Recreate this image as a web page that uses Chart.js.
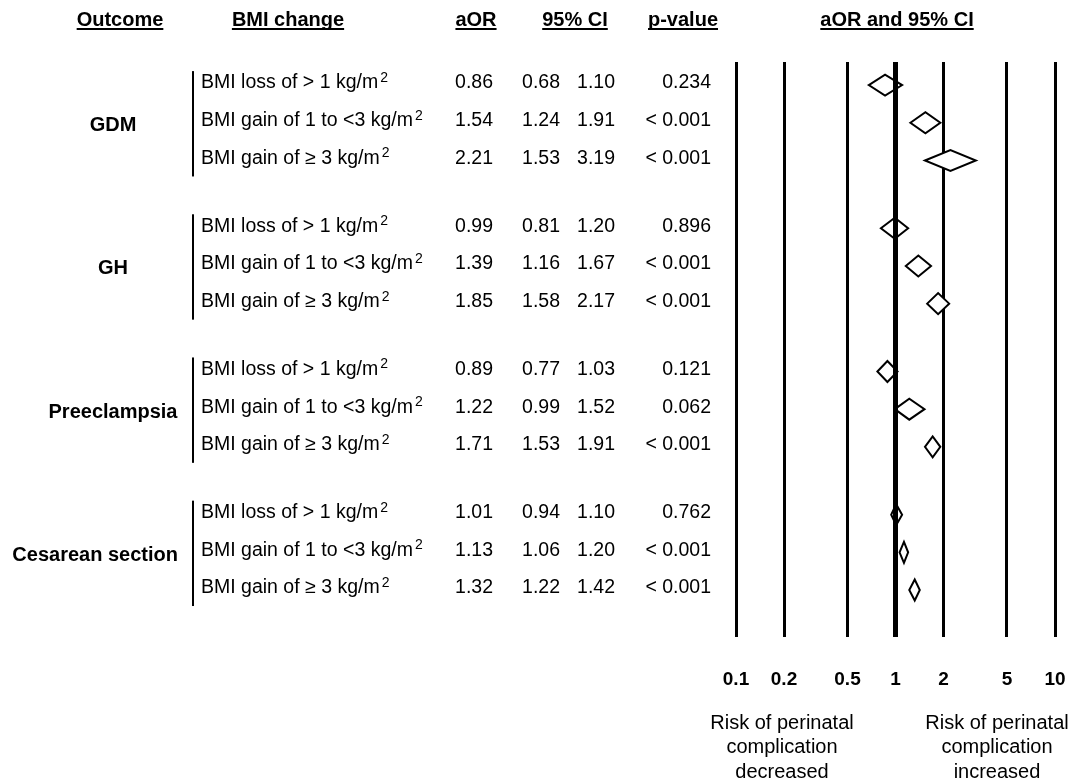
<!DOCTYPE html>
<html>
<head>
<meta charset="utf-8">
<script src="https://cdn.jsdelivr.net/npm/chart.js@4.4.1/dist/chart.umd.min.js"></script>
<style>
  html, body { margin: 0; padding: 0; background: #fff; }
  #wrap { width: 1073px; height: 784px; }
</style>
</head>
<body>
<div id="wrap"><canvas id="forest" width="1073" height="784"></canvas></div>
<script>
// dados
const outcomes = ['GDM', 'GH', 'Preeclampsia', 'Cesarean section'];
const bmiChanges = ['BMI loss of > 1 kg/m', 'BMI gain of 1 to <3 kg/m', 'BMI gain of \u2265 3 kg/m'];
const aor    = [0.86, 1.54, 2.21, 0.99, 1.39, 1.85, 0.89, 1.22, 1.71, 1.01, 1.13, 1.32];
const ciLow  = [0.68, 1.24, 1.53, 0.81, 1.16, 1.58, 0.77, 0.99, 1.53, 0.94, 1.06, 1.22];
const ciHigh = [1.10, 1.91, 3.19, 1.20, 1.67, 2.17, 1.03, 1.52, 1.91, 1.10, 1.20, 1.42];
const pValues = ['0.234', '< 0.001', '< 0.001', '0.896', '< 0.001', '< 0.001',
                 '0.121', '0.062', '< 0.001', '0.762', '< 0.001', '< 0.001'];
const xTicks = [0.1, 0.2, 0.5, 1, 2, 5, 10];

const FONT = '"Liberation Sans", Arial, sans-serif';

// posicao vertical de cada linha (grupo + linha dentro do grupo)
const rowPos = aor.map((_, i) => Math.floor(i / 3) * 3.8 + (i % 3));

const fmt = v => v.toFixed(2);

// losangos: largura = IC, centro = aOR
const diamondPlugin = {
  id: 'diamonds',
  beforeDatasetsDraw(chart) {
    const { ctx, scales: { x, y } } = chart;
    ctx.save();
    ctx.lineWidth = 2;
    ctx.strokeStyle = '#000';
    ctx.fillStyle = '#fff';
    ctx.lineJoin = 'miter';
    aor.forEach((v, i) => {
      const yc = y.getPixelForValue(rowPos[i]) + 2;
      const xl = x.getPixelForValue(ciLow[i]);
      const xr = x.getPixelForValue(ciHigh[i]);
      const xc = x.getPixelForValue(v);
      ctx.beginPath();
      ctx.moveTo(xl, yc);
      ctx.lineTo(xc, yc - 10.5);
      ctx.lineTo(xr, yc);
      ctx.lineTo(xc, yc + 10.5);
      ctx.closePath();
      ctx.fill();
      ctx.stroke();
    });
    ctx.restore();
  }
};

// tabela de texto a esquerda
const tablePlugin = {
  id: 'table',
  afterDraw(chart) {
    const { ctx, scales: { y } } = chart;
    ctx.save();
    ctx.fillStyle = '#000';
    ctx.strokeStyle = '#000';

    // cabecalhos sublinhados
    ctx.font = 'bold 20px ' + FONT;
    ctx.textAlign = 'center';
    ctx.textBaseline = 'alphabetic';
    const heads = [['Outcome', 120], ['BMI change', 288], ['aOR', 476], ['95% CI', 575], ['p-value', 683], ['aOR and 95% CI', 897]];
    heads.forEach(([t, cx]) => {
      ctx.fillText(t, cx, 26);
      const w = ctx.measureText(t).width;
      ctx.fillRect(cx - w / 2, 28, w, 2);
    });

    // desfechos + chaves
    outcomes.forEach((o, g) => {
      const y0 = y.getPixelForValue(rowPos[g * 3]);
      const y1 = y.getPixelForValue(rowPos[g * 3 + 1]);
      const y2 = y.getPixelForValue(rowPos[g * 3 + 2]);
      ctx.font = 'bold 20px ' + FONT;
      ctx.textBaseline = 'middle';
      ctx.textAlign = 'center';
      const w = ctx.measureText(o).width;
      const cx = Math.min(113, 178 - w / 2);
      ctx.fillText(o, cx, y1 + 5);
      ctx.fillRect(192, y0 - 12, 2, (y2 - y0) + 30);
    });

    // linhas de cada mudanca de IMC
    aor.forEach((v, i) => {
      const yc = y.getPixelForValue(rowPos[i]);
      ctx.textBaseline = 'middle';
      ctx.font = '19.5px ' + FONT;
      ctx.textAlign = 'left';
      const lbl = bmiChanges[i % 3];
      ctx.fillText(lbl, 201, yc);
      const lw = ctx.measureText(lbl).width;
      ctx.font = '14px ' + FONT;
      ctx.fillText('2', 201 + lw + 2, yc - 5);

      ctx.font = '19.5px ' + FONT;
      ctx.textAlign = 'right';
      ctx.fillText(fmt(v), 493, yc);
      ctx.fillText(fmt(ciLow[i]), 560, yc);
      ctx.fillText(fmt(ciHigh[i]), 615, yc);
      ctx.fillText(pValues[i], 711, yc);
    });

    // legendas de risco em baixo
    ctx.font = '20px ' + FONT;
    ctx.textAlign = 'center';
    ctx.textBaseline = 'middle';
    [['Risk of perinatal', 'complication', 'decreased', 782],
     ['Risk of perinatal', 'complication', 'increased', 997]].forEach(([a, b, c, cx]) => {
      ctx.fillText(a, cx, 723);
      ctx.fillText(b, cx, 747);
      ctx.fillText(c, cx, 772);
    });
    ctx.restore();
  }
};

const lastRow = rowPos[rowPos.length - 1];
const yMin = -0.56;
const yMax = lastRow + 1.3;

new Chart(document.getElementById('forest'), {
  type: 'scatter',
  data: {
    datasets: [{
      // linha de referencia (aOR = 1) por cima dos losangos
      type: 'line',
      data: [{ x: 1, y: yMin }, { x: 1, y: yMax }],
      borderColor: '#000',
      borderWidth: 5,
      pointRadius: 0,
      fill: false
    }]
  },
  options: {
    responsive: false,
    animation: false,
    layout: { padding: { left: 736, right: 18, top: 62, bottom: 0 } },
    plugins: { legend: { display: false }, tooltip: { enabled: false } },
    scales: {
      x: {
        type: 'logarithmic',
        min: 0.1,
        max: 10,
        afterBuildTicks: scale => { scale.ticks = xTicks.map(v => ({ value: v })); },
        afterFit: scale => {
          scale.height = 147;
          scale.paddingLeft = 0;
          scale.paddingRight = 0;
        },
        border: { display: false },
        grid: {
          color: '#000',
          lineWidth: c => (c.tick && c.tick.value === 1 ? 5 : 3),
          drawTicks: false
        },
        ticks: {
          padding: 31,
          autoSkip: false,
          maxRotation: 0,
          color: '#000',
          font: { family: FONT, size: 19, weight: 'bold' },
          callback: v => String(v)
        }
      },
      y: {
        type: 'linear',
        reverse: true,
        min: yMin,
        max: yMax,
        display: false
      }
    }
  },
  plugins: [diamondPlugin, tablePlugin]
});
</script>
</body>
</html>
